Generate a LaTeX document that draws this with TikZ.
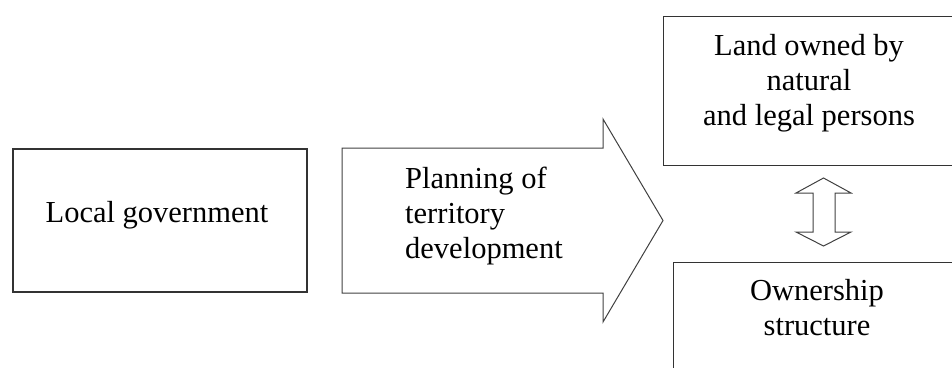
\documentclass[tikz,border=0pt]{standalone}
\usepackage{fontspec}
\setmainfont{Liberation Serif}
\begin{document}
\begin{tikzpicture}[x=1pt,y=-1pt,
    box/.style={draw=black!80, line width=1.1pt, rectangle, inner sep=0pt},
    blockarrow/.style={draw=black!75, line width=1pt, line join=miter},
    txt/.style={font=\fontsize{30.5}{35}\selectfont, inner sep=0pt}]
      \clip (0,0) rectangle (952,367);
      % boxes
      \node[box, minimum width=294, minimum height=143] (local) at (160,220.5) {};
      \node[box, anchor=north west, minimum width=320, minimum height=149] (land) at (663,16) {};
      \node[box, anchor=north west, minimum width=320, minimum height=130] (owner) at (673,262) {};
      % texts
      \node[txt, anchor=north] (localtxt) at (157,201) {Local government};
      \node[txt, anchor=north west, align=left] (plantxt) at (405,166.5) {Planning of\\territory\\development};
      \node[txt, anchor=north, align=center] (landtxt) at (809,34.2) {Land owned by\\natural\\and legal persons};
      \node[txt, anchor=north, align=center] (ownertxt) at (817,279.2) {Ownership\\structure};
      % big arrow
      \draw[blockarrow] (342,148) -- (603,148) -- (603,119) -- (663,220.5) -- (603,322) -- (603,293) -- (342,293) -- cycle;
      % double arrow
      \draw[blockarrow] (813,193) -- (796,193) -- (823.5,178) -- (851,193) -- (835,193) -- (835,232) -- (851,232) -- (823.5,246) -- (796,232) -- (813,232) -- cycle;
    \end{tikzpicture}
\end{document}
